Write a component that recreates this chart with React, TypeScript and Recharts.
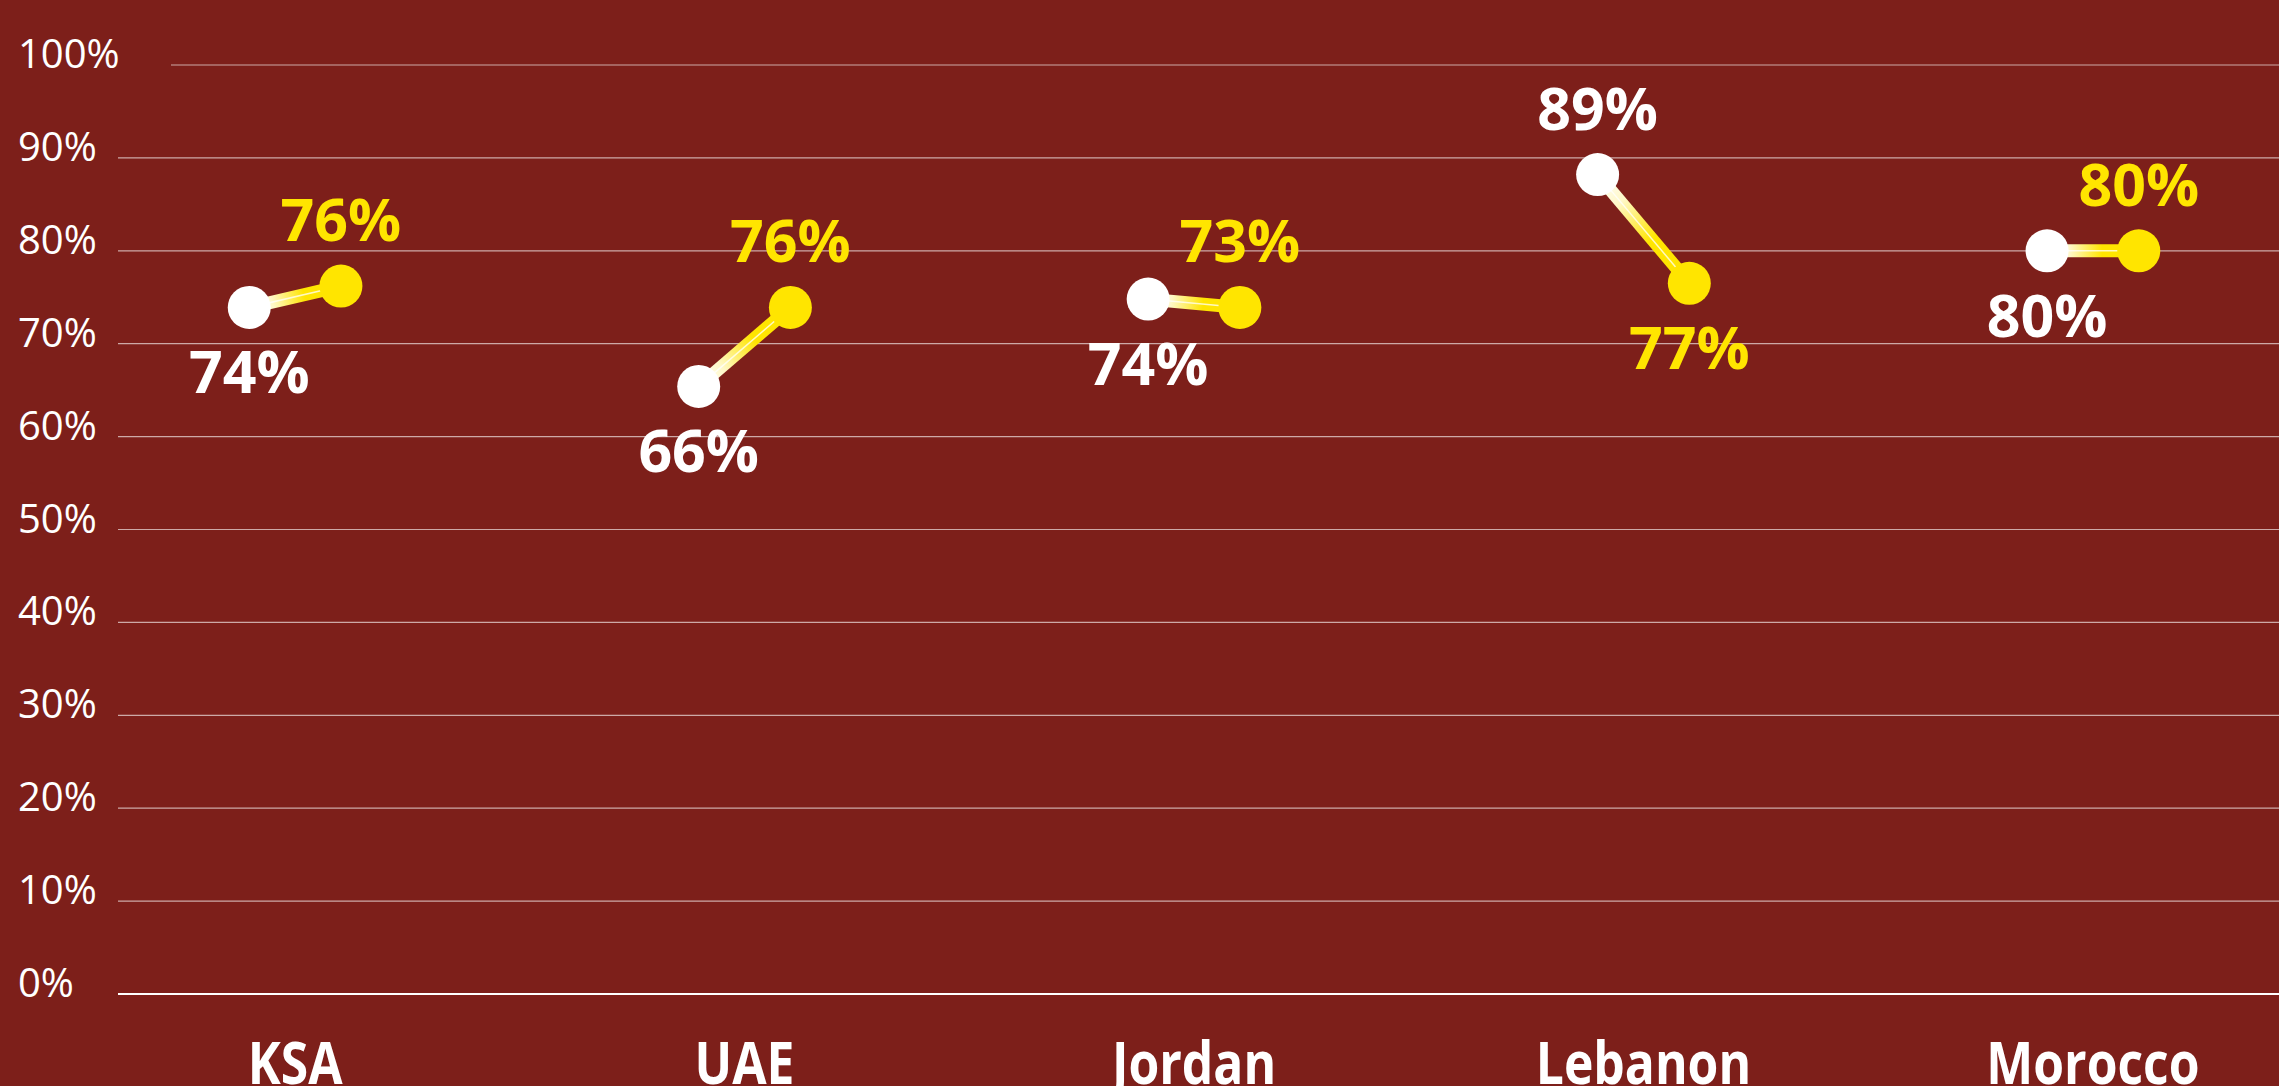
import React from 'react';
import { ScatterChart, Scatter, XAxis, YAxis, CartesianGrid } from 'recharts';

// ============================================
// Data
// ============================================

const countries = ['KSA', 'UAE', 'Jordan', 'Lebanon', 'Morocco'];

// plotted positions
const whiteValues = [73.9, 65.4, 74.8, 88.2, 80.0];
const yellowValues = [76.2, 73.9, 73.9, 76.5, 80.0];

// printed labels
const whiteLabels = ['74%', '66%', '74%', '89%', '80%'];
const yellowLabels = ['76%', '76%', '73%', '77%', '80%'];

const yTicks = [0, 10, 20, 30, 40, 50, 60, 70, 80, 90, 100];

// ============================================
// Styles
// ============================================

const BG = '#7D1F1A';
const WHITE = '#FFFFFF';
const YELLOW = '#FFE500';
const GRID = 'rgba(255,255,255,0.62)';
const LABEL_FONT = "'Open Sans', 'Noto Sans', sans-serif";
const CAT_FONT = "'Open Sans', 'Noto Sans', sans-serif";

const W = 2279;
const H = 1086;
const TOP = 65;
const PAIR_OFFSET = 0.102;
const X_DOMAIN: [number, number] = [-0.394, 4.414];

type Pt = { x: number; y: number; kind: 'white' | 'yellow'; label: string; above: boolean };

function buildPairs() {
  return countries.map((_, i) => {
    // white label goes above only when white clearly sits higher
    const whiteUp = whiteValues[i] - yellowValues[i] > 5;
    const pts: Pt[] = [
      { x: i - PAIR_OFFSET, y: whiteValues[i], kind: 'white', label: whiteLabels[i], above: whiteUp },
      { x: i + PAIR_OFFSET, y: yellowValues[i], kind: 'yellow', label: yellowLabels[i], above: !whiteUp },
    ];
    return pts;
  });
}

// ============================================
// Custom pieces
// ============================================

function SegmentLine(props: any) {
  const { points, gid } = props;
  if (!points || points.length < 2) return null;
  const [a, b] = points;
  return (
    <g>
      <defs>
        <linearGradient id={gid} gradientUnits="userSpaceOnUse" x1={a.x} y1={a.y} x2={b.x} y2={b.y}>
          <stop offset="0%" stopColor={WHITE} stopOpacity={1} />
          <stop offset="25%" stopColor="#FFF8C8" stopOpacity={1} />
          <stop offset="60%" stopColor={YELLOW} stopOpacity={1} />
          <stop offset="100%" stopColor={YELLOW} stopOpacity={1} />
        </linearGradient>
      </defs>
      <line x1={a.x} y1={a.y} x2={b.x} y2={b.y} stroke={`url(#${gid})`} strokeWidth={13} />
      <line x1={a.x} y1={a.y} x2={b.x} y2={b.y} stroke="rgba(255,255,255,0.75)" strokeWidth={1.5} />
    </g>
  );
}

function PointShape(props: any) {
  const { cx, cy, payload } = props;
  const color = payload.kind === 'white' ? WHITE : YELLOW;
  return (
    <g>
      <circle cx={cx} cy={cy} r={21.5} fill={color} />
      <text
        x={cx}
        y={payload.above ? cy - 45 : cy + 86}
        textAnchor="middle"
        fill={color}
        fontFamily={LABEL_FONT}
        fontWeight={700}
        fontSize={59}
      >
        {payload.label}
      </text>
    </g>
  );
}

function YTick(props: any) {
  const { y, payload } = props;
  return (
    <text x={18} y={y + 3} textAnchor="start" fill={WHITE} fontFamily={LABEL_FONT} fontWeight={400} fontSize={40}>
      {`${payload.value}%`}
    </text>
  );
}

function XTick(props: any) {
  const { x, y, payload } = props;
  // condensed look: squeeze the bold face horizontally
  return (
    <text
      transform={`translate(${x},${y + 88}) scale(0.83,1)`}
      x={0}
      y={0}
      textAnchor="middle"
      fill={WHITE}
      fontFamily={CAT_FONT}
      fontWeight={700}
      fontSize={60}
    >
      {countries[payload.value]}
    </text>
  );
}

function GridLine(props: any) {
  const { x1, x2, y1, y2 } = props;
  // the top line starts a little further right in the original
  const start = y1 < TOP + 5 ? x1 + 53 : x1;
  return <line x1={start} x2={x2} y1={y1} y2={y2} stroke={GRID} strokeWidth={1.2} />;
}

// ============================================
// Component
// ============================================

export default function App() {
  const pairs = buildPairs();

  return (
    <div style={{ position: 'absolute', left: 0, top: 0, width: W, height: H, background: BG, overflow: 'hidden' }}>
      <ScatterChart width={W} height={H} margin={{ top: TOP, right: 0, bottom: 0, left: 0 }}>
        <CartesianGrid horizontal={(p: any) => <GridLine key={p.key} {...p} />} vertical={false} />
        <XAxis
          type="number"
          dataKey="x"
          domain={X_DOMAIN}
          ticks={[0, 1, 2, 3, 4]}
          height={92}
          tickSize={0}
          tickLine={false}
          axisLine={{ stroke: WHITE, strokeWidth: 2 }}
          tick={<XTick />}
          interval={0}
        />
        <YAxis
          type="number"
          dataKey="y"
          domain={[0, 100]}
          ticks={yTicks}
          width={118}
          axisLine={false}
          tickLine={false}
          tick={<YTick />}
          interval={0}
        />
        {pairs.map((pts, i) => (
          <Scatter
            key={countries[i]}
            name={countries[i]}
            data={pts}
            isAnimationActive={false}
            line={<SegmentLine gid={`seg-grad-${i}`} />}
            lineType="joint"
            shape={<PointShape />}
          />
        ))}
      </ScatterChart>
    </div>
  );
}
